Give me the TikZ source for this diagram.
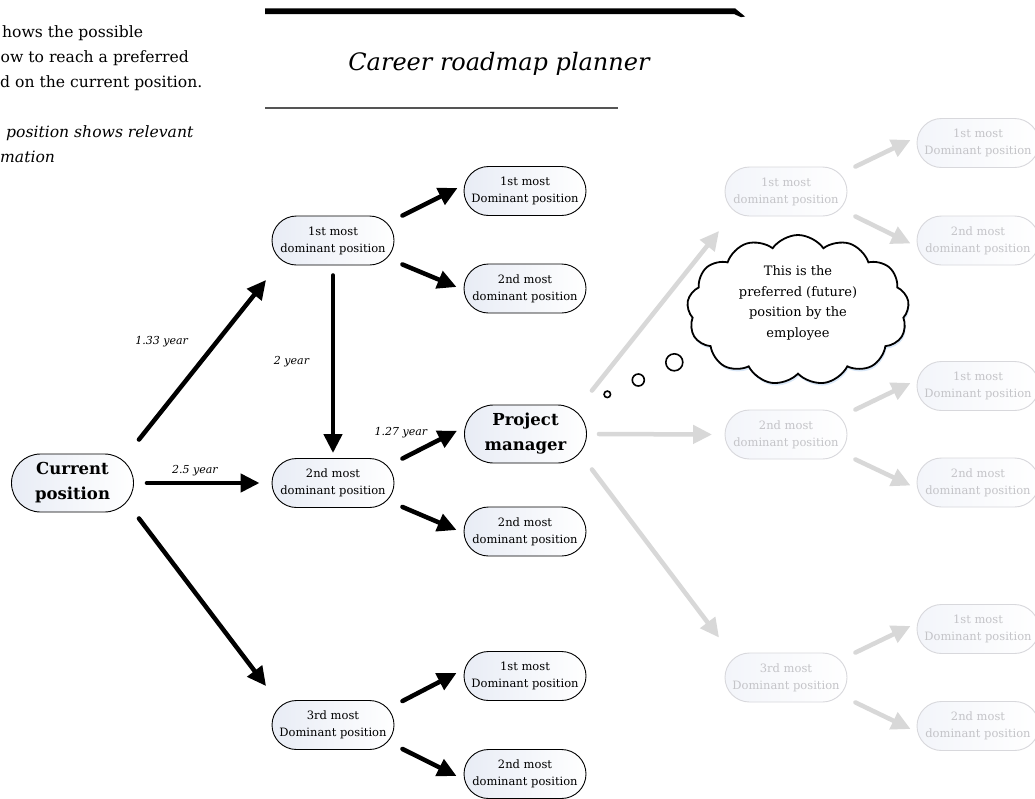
\documentclass[tikz,border=0pt]{standalone}
\usepackage{fontspec}
\setmainfont{DejaVu Serif}
\usetikzlibrary{arrows.meta,calc,shapes.symbols,shadows}

\definecolor{tintL}{RGB}{232,236,245}
\definecolor{fadeTint}{RGB}{243,245,250}
\definecolor{fadeLine}{RGB}{216,216,220}
\definecolor{fadeText}{RGB}{196,196,200}
\definecolor{fadeArrow}{RGB}{216,216,216}
\definecolor{rulegray}{RGB}{85,85,85}
\definecolor{glow}{RGB}{150,190,235}

\tikzset{
  posbox/.style={rectangle, rounded corners=24.5pt, minimum width=122pt,
    minimum height=49pt, inner sep=0pt, align=center, draw=black,
    line width=0.9pt, left color=tintL, right color=white,
    font=\fontsize{11.5}{17}\selectfont},
  bigbox/.style={posbox, rounded corners=29pt, minimum height=58pt,
    font=\bfseries\fontsize{16.5}{25}\selectfont},
  fadebox/.style={posbox, draw=fadeLine, left color=fadeTint,
    right color=white, text=fadeText},
  blkarrow/.style={line width=4.5pt, line cap=round,
    -{Triangle[length=19pt,width=18pt]}},
  fadearrow/.style={blkarrow, color=fadeArrow},
  yearlbl/.style={font=\itshape\fontsize{11}{13}\selectfont, inner sep=0pt},
  notetxt/.style={font=\fontsize{15.6}{18}\selectfont, inner sep=0pt,
    anchor=base west},
  bubble/.style={circle, draw=black, line width=1.6pt, fill=white,
    inner sep=0pt},
}

\begin{document}
\begin{tikzpicture}[x=1pt,y=-1pt]
\useasboundingbox (0,0) rectangle (1035,798);
\fill[white] (0,0) rectangle (1035,798);

% heading rules and title
\fill (265,8.3) -- (735,8.3) -- (745,16.5) -- (741,17.2) -- (734,14) -- (265,14) -- cycle;
\draw[rulegray, line width=1.6pt] (265,108) -- (618,108);
\node[anchor=base, font=\itshape\fontsize{24}{28}\selectfont] (title) at (499,70) {Career roadmap planner};

% explanatory note
\node[notetxt] (n1) at (2,37.5) {hows the possible};
\node[notetxt] (n2) at (0.5,62) {ow to reach a preferred};
\node[notetxt] (n3) at (0,87) {d on the current position.};
\node[notetxt, font=\itshape\fontsize{15.6}{18}\selectfont] (n4) at (6,137) {position shows relevant};
\node[notetxt, font=\itshape\fontsize{15.6}{18}\selectfont] (n5) at (0,162) {mation};

% active roadmap
\node[bigbox] (cur) at (72.5,483) {Current\\position};
\node[posbox] (d1) at (333,240.5) {1st most\\dominant position};
\node[posbox] (d2) at (333,483) {2nd most\\dominant position};
\node[posbox] (d3) at (333,725) {3rd most\\Dominant position};
\node[posbox] (a1) at (525,191) {1st most\\Dominant position};
\node[posbox] (a2) at (525,288.5) {2nd most\\dominant position};
\node[bigbox] (pm) at (525.5,434) {Project\\manager};
\node[posbox] (a3) at (525,531.5) {2nd most\\dominant position};
\node[posbox] (a4) at (525,676) {1st most\\Dominant position};
\node[posbox] (a5) at (525,774) {2nd most\\dominant position};

\draw[blkarrow] ($(cur.north east)+(5,-14)$) -- ($(d1.south west)+(-5.5,14.5)$);
\draw[blkarrow] ($(cur.east)+(13,0)$) -- ($(d2.west)+(-12,0)$);
\draw[blkarrow] ($(cur.south east)+(5,6)$) -- ($(d3.north west)+(-5.5,-14)$);
\draw[blkarrow] ($(d1.north east)+(8,0)$) -- ($(a1.west)+(-6,-3)$);
\draw[blkarrow] ($(d1.south east)+(8,-1)$) -- ($(a2.west)+(-7,-1.5)$);
\draw[blkarrow] ($(d1.south)+(0,10)$) -- ($(d2.north)+(0,-5)$);
\draw[blkarrow] ($(d2.north east)+(8,0.5)$) -- ($(pm.west)+(-7,-3.3)$);
\draw[blkarrow] ($(d2.south east)+(8,-1)$) -- ($(a3.west)+(-7,-1.5)$);
\draw[blkarrow] ($(d3.north east)+(8,1)$) -- ($(a4.west)+(-7,-3)$);
\draw[blkarrow] ($(d3.south east)+(8,-1)$) -- ($(a5.west)+(-7,2)$);

\node[yearlbl] (y133) at (161.7,341.7) {1.33 year};
\node[yearlbl] (y2) at (291.5,361.7) {2 year};
\node[yearlbl] (y25) at (195,471) {2.5 year};
\node[yearlbl] (y127) at (401,433) {1.27 year};

% faded continuation
\node[fadebox] (f1) at (786,191.5) {1st most\\dominant position};
\node[fadebox] (f2) at (786,434.5) {2nd most\\dominant position};
\node[fadebox] (f3) at (786,677.5) {3rd most\\Dominant position};
\node[fadebox] (r1) at (978,143) {1st most\\Dominant position};
\node[fadebox] (r2) at (978,240.5) {2nd most\\dominant position};
\node[fadebox] (r3) at (978,386) {1st most\\Dominant position};
\node[fadebox] (r4) at (978,482.5) {2nd most\\dominant position};
\node[fadebox] (r5) at (978,629) {1st most\\Dominant position};
\node[fadebox] (r6) at (978,726) {2nd most\\dominant position};

\draw[fadearrow] ($(pm.north east)+(5,-14)$) -- ($(f1.south west)+(-5.5,14.5)$);
\draw[fadearrow] ($(pm.east)+(12,0)$) -- ($(f2.west)+(-12.5,0)$);
\draw[fadearrow] ($(pm.south east)+(5,6)$) -- ($(f3.north west)+(-5.5,-15)$);
\draw[fadearrow] ($(f1.north east)+(8,0)$) -- ($(r1.west)+(-6,-3)$);
\draw[fadearrow] ($(f1.south east)+(8,0)$) -- ($(r2.west)+(-6,3)$);
\draw[fadearrow] ($(f2.north east)+(8,0)$) -- ($(r3.west)+(-6,-3)$);
\draw[fadearrow] ($(f2.south east)+(8,0)$) -- ($(r4.west)+(-6,3)$);
\draw[fadearrow] ($(f3.north east)+(8,0)$) -- ($(r5.west)+(-6,-3)$);
\draw[fadearrow] ($(f3.south east)+(8,0)$) -- ($(r6.west)+(-6,3)$);

% thought cloud
\node[bubble, minimum size=6.5pt] (bub1) at (607.3,394.3) {};
\node[bubble, minimum size=12pt] (bub2) at (638.3,380) {};
\node[bubble, minimum size=17pt] (bub3) at (674.3,362.3) {};
\node[cloud, cloud puffs=13, cloud puff arc=110, cloud ignores aspect,
  draw=black, line width=1.8pt, fill=white,
  minimum width=222pt, minimum height=150pt,
  drop shadow={shadow xshift=1pt, shadow yshift=-2.5pt, fill=glow, opacity=0.35}]
  (thought) at (798,310) {};
\node[align=center, font=\fontsize{13}{20.5}\selectfont] (thoughttxt)
  at ($(thought.center)+(0,-7)$) {This is the\\preferred (future)\\position by the\\employee};
\end{tikzpicture}
\end{document}
